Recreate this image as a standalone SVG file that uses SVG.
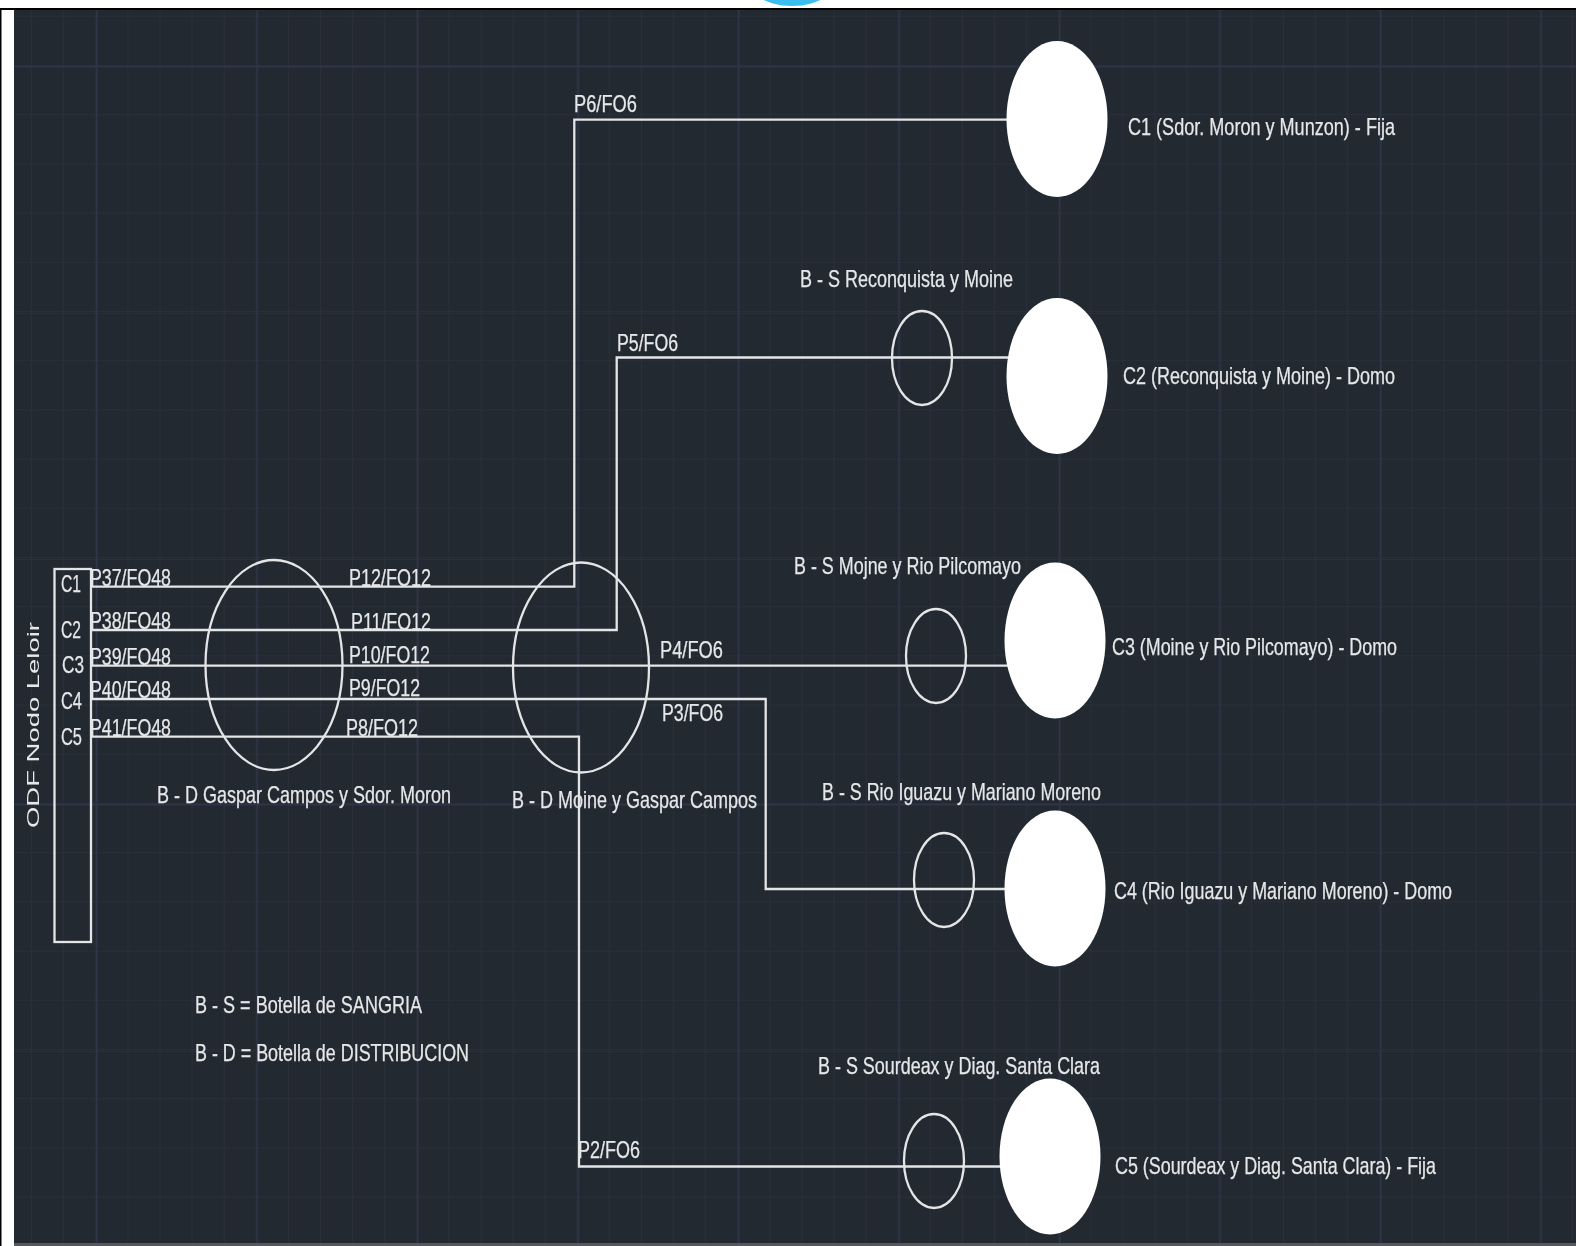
<svg xmlns="http://www.w3.org/2000/svg" width="1576" height="1246" viewBox="0 0 1576 1246">
<style>
text{font-family:"Liberation Sans",Arial,sans-serif;font-size:24px;fill:#e6e7e8;stroke:#e6e7e8;stroke-width:.25px;filter:url(#soft)}
.w{fill:none;stroke:#e4e5e6;stroke-width:2.3;filter:url(#soft)}
.f{fill:#fff;stroke:none;filter:url(#soft)}
</style>
<defs>
<filter id="soft" x="-10%" y="-20%" width="120%" height="140%"><feGaussianBlur stdDeviation="0.5"/></filter>
<pattern id="minor" width="32.1" height="49.2" patternUnits="userSpaceOnUse" patternTransform="translate(0,16.8)">
<path d="M32.1 0V49.2M0 49.2H32.1" fill="none" stroke="#2a2f3a" stroke-width="2"/>
</pattern>
<pattern id="major" width="160.5" height="246" patternUnits="userSpaceOnUse" patternTransform="translate(-64.5,66)">
<path d="M0 0V246M0 0H160.5" fill="none" stroke="#2f3448" stroke-width="3"/>
</pattern>
</defs>
<rect width="1576" height="1246" fill="#fff"/>
<ellipse cx="792" cy="-28" rx="50" ry="34" fill="#3bbdf0"/>
<rect x="14" y="9" width="1562" height="1237" fill="#222931"/>
<rect x="14" y="9" width="1562" height="1237" fill="url(#minor)"/>
<rect x="14" y="9" width="1562" height="1237" fill="url(#major)"/>
<rect x="14" y="1243" width="1562" height="3" fill="#55595e"/>
<rect x="0" y="8" width="1576" height="2" fill="#000"/>
<rect x="0" y="8" width="1.5" height="1238" fill="#000"/>
<g id="connectors" class="w">
<path d="M91 586.7H574.3V119.6H1010"/>
<path d="M91 630H616.7V357.5H1010"/>
<path d="M91 665.7H1010"/>
<path d="M91 699H765.7V889H1010"/>
<path d="M91 736.7H579V1166.5H1003"/>
</g>
<g id="odf"><rect class="w" x="54.5" y="569" width="36.5" height="373"/>
<text transform="translate(39,828) rotate(-90)" style="font-size:17px;stroke-width:0" textLength="206" lengthAdjust="spacingAndGlyphs">ODF Nodo Leloir</text>
<text x="61" y="591.5" textLength="20" lengthAdjust="spacingAndGlyphs">C1</text>
<text x="61" y="637.5" textLength="20" lengthAdjust="spacingAndGlyphs">C2</text>
<text x="62" y="673" textLength="22" lengthAdjust="spacingAndGlyphs">C3</text>
<text x="61" y="708.5" textLength="21" lengthAdjust="spacingAndGlyphs">C4</text>
<text x="61" y="744.5" textLength="21" lengthAdjust="spacingAndGlyphs">C5</text>
</g>
<g id="bd1"><ellipse class="w" cx="274" cy="665" rx="68.5" ry="105"/>
<text x="157" y="803" textLength="294" lengthAdjust="spacingAndGlyphs">B - D Gaspar Campos y Sdor. Moron</text></g>
<g id="bd2"><ellipse class="w" cx="581" cy="667.5" rx="68" ry="105"/>
<text x="512" y="808" textLength="245" lengthAdjust="spacingAndGlyphs">B - D Moine y Gaspar Campos</text></g>
<g id="fiber-labels">
<text x="90" y="586" textLength="81" lengthAdjust="spacingAndGlyphs">P37/FO48</text>
<text x="90" y="629" textLength="81" lengthAdjust="spacingAndGlyphs">P38/FO48</text>
<text x="90" y="664.5" textLength="81" lengthAdjust="spacingAndGlyphs">P39/FO48</text>
<text x="90" y="697.5" textLength="81" lengthAdjust="spacingAndGlyphs">P40/FO48</text>
<text x="90" y="735.5" textLength="81" lengthAdjust="spacingAndGlyphs">P41/FO48</text>
<text x="349" y="586" textLength="82" lengthAdjust="spacingAndGlyphs">P12/FO12</text>
<text x="351" y="630" textLength="80" lengthAdjust="spacingAndGlyphs">P11/FO12</text>
<text x="349" y="663" textLength="81" lengthAdjust="spacingAndGlyphs">P10/FO12</text>
<text x="349" y="696" textLength="71" lengthAdjust="spacingAndGlyphs">P9/FO12</text>
<text x="346" y="735.5" textLength="72" lengthAdjust="spacingAndGlyphs">P8/FO12</text>
<text x="660" y="658" textLength="63" lengthAdjust="spacingAndGlyphs">P4/FO6</text>
<text x="662" y="721" textLength="61" lengthAdjust="spacingAndGlyphs">P3/FO6</text>
<text x="574" y="112" textLength="63" lengthAdjust="spacingAndGlyphs">P6/FO6</text>
<text x="617" y="351" textLength="61" lengthAdjust="spacingAndGlyphs">P5/FO6</text>
<text x="578" y="1158" textLength="62" lengthAdjust="spacingAndGlyphs">P2/FO6</text>
</g>
<g id="c1"><ellipse class="f" cx="1057" cy="119" rx="50.5" ry="78"/>
<text x="1128" y="134.5" textLength="267" lengthAdjust="spacingAndGlyphs">C1 (Sdor. Moron y Munzon) - Fija</text></g>
<g id="c2"><ellipse class="f" cx="1057" cy="376" rx="50.5" ry="78"/>
<text x="1123" y="383.5" textLength="272" lengthAdjust="spacingAndGlyphs">C2 (Reconquista y Moine) - Domo</text></g>
<g id="c3"><ellipse class="f" cx="1055" cy="640.5" rx="50.5" ry="78"/>
<text x="1112" y="655" textLength="285" lengthAdjust="spacingAndGlyphs">C3 (Moine y Rio Pilcomayo) - Domo</text></g>
<g id="c4"><ellipse class="f" cx="1055" cy="888.5" rx="50.5" ry="78"/>
<text x="1114" y="899" textLength="338" lengthAdjust="spacingAndGlyphs">C4 (Rio Iguazu y Mariano Moreno) - Domo</text></g>
<g id="c5"><ellipse class="f" cx="1050" cy="1156.5" rx="50.5" ry="78"/>
<text x="1115" y="1173.5" textLength="321" lengthAdjust="spacingAndGlyphs">C5 (Sourdeax y Diag. Santa Clara) - Fija</text></g>
<g id="bs2"><ellipse class="w" cx="922" cy="358" rx="30" ry="47"/>
<text x="800" y="287" textLength="213" lengthAdjust="spacingAndGlyphs">B - S Reconquista y Moine</text></g>
<g id="bs3"><ellipse class="w" cx="936" cy="656" rx="30" ry="47"/>
<text x="794" y="574" textLength="227" lengthAdjust="spacingAndGlyphs">B - S Mojne y Rio Pilcomayo</text></g>
<g id="bs4"><ellipse class="w" cx="944" cy="880" rx="30" ry="47"/>
<text x="822" y="800" textLength="279" lengthAdjust="spacingAndGlyphs">B - S Rio Iguazu y Mariano Moreno</text></g>
<g id="bs5"><ellipse class="w" cx="934" cy="1161" rx="30" ry="47"/>
<text x="818" y="1074" textLength="282" lengthAdjust="spacingAndGlyphs">B - S Sourdeax y Diag. Santa Clara</text></g>
<g id="legend">
<text x="195" y="1013" textLength="227" lengthAdjust="spacingAndGlyphs">B - S = Botella de SANGRIA</text>
<text x="195" y="1061" textLength="274" lengthAdjust="spacingAndGlyphs">B - D = Botella de DISTRIBUCION</text>
</g>
</svg>
